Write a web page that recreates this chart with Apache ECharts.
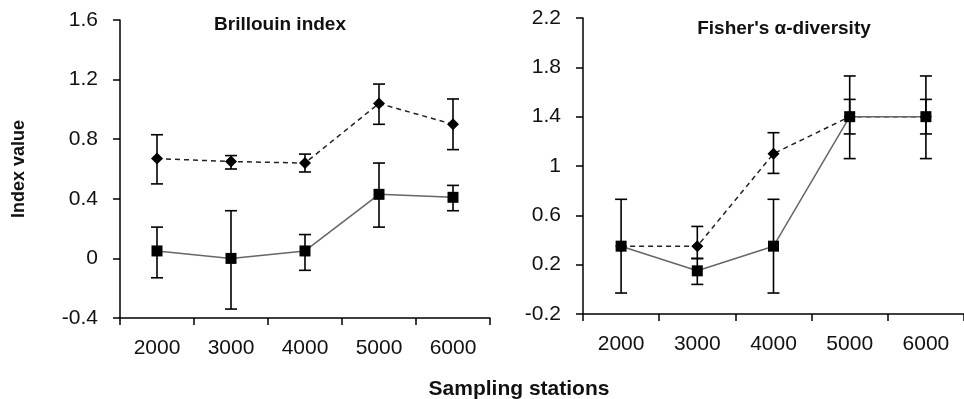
<!DOCTYPE html>
<html>
<head>
<meta charset="utf-8">
<script src="https://cdn.jsdelivr.net/npm/echarts@6/dist/echarts.min.js"></script>
<style>
html,body{margin:0;padding:0;background:#fff;}
#chart{width:964px;height:399px;}
</style>
</head>
<body>
<div id="chart"></div>
<script>
const categories = ['2000', '3000', '4000', '5000', '6000'];

const brillouinSolid     = [0.05, 0.00, 0.05, 0.43, 0.41];
const brillouinSolidLow  = [-0.13, -0.34, -0.08, 0.21, 0.32];
const brillouinSolidHigh = [0.21, 0.32, 0.16, 0.64, 0.49];
const brillouinDashed     = [0.67, 0.65, 0.64, 1.04, 0.90];
const brillouinDashedLow  = [0.50, 0.60, 0.58, 0.90, 0.73];
const brillouinDashedHigh = [0.83, 0.69, 0.70, 1.17, 1.07];

const fisherSolid     = [0.35, 0.15, 0.35, 1.40, 1.40];
const fisherSolidLow  = [-0.03, 0.04, -0.03, 1.06, 1.06];
const fisherSolidHigh = [0.73, 0.25, 0.73, 1.73, 1.73];
const fisherDashed     = [0.35, 0.35, 1.10, 1.40, 1.40];
const fisherDashedLow  = [0.35, 0.25, 0.94, 1.26, 1.26];
const fisherDashedHigh = [0.35, 0.51, 1.27, 1.54, 1.54];

const leftTicks = { min: -0.4, max: 1.6, interval: 0.4 };
const rightTicks = { min: -0.2, max: 2.2, interval: 0.4 };

const FONT = 'Liberation Sans, Arial, sans-serif';
const TXT = '#111';

function errData(lo, hi) {
  return categories.map((c, i) => [i, lo[i], hi[i]]);
}
function errRender(params, api) {
  const x = api.value(0);
  const lo = api.coord([x, api.value(1)]);
  const hi = api.coord([x, api.value(2)]);
  if (Math.abs(lo[1] - hi[1]) < 0.5) return { type: 'group', children: [] };
  const w = 6;
  const st = { stroke: '#000', lineWidth: 1.6 };
  return {
    type: 'group',
    children: [
      { type: 'line', shape: { x1: lo[0], y1: lo[1], x2: hi[0], y2: hi[1] }, style: st },
      { type: 'line', shape: { x1: hi[0] - w, y1: hi[1], x2: hi[0] + w, y2: hi[1] }, style: st },
      { type: 'line', shape: { x1: lo[0] - w, y1: lo[1], x2: lo[0] + w, y2: lo[1] }, style: st }
    ]
  };
}

function xAxis(gi) {
  return {
    type: 'category', gridIndex: gi, data: categories, boundaryGap: true,
    axisLine: { onZero: false, lineStyle: { color: '#000', width: 1.5 } },
    axisTick: { show: true, length: 7, lineStyle: { color: '#000', width: 1.5 } },
    axisLabel: { color: TXT, fontSize: 21, fontFamily: FONT, margin: 20 },
    splitLine: { show: false }
  };
}
function yAxis(gi, t, extra) {
  return Object.assign({
    type: 'value', gridIndex: gi, min: t.min, max: t.max, interval: t.interval,
    axisLine: { show: true, onZero: false, lineStyle: { color: '#000', width: 1.5 } },
    axisTick: { show: true, length: 7, lineStyle: { color: '#000', width: 1.5 } },
    axisLabel: { color: TXT, fontSize: 21, fontFamily: FONT, margin: 22,
      formatter: v => String(Math.round(v * 10) / 10) },
    splitLine: { show: false }
  }, extra || {});
}

function solidLine(xi, data) {
  return {
    type: 'line', xAxisIndex: xi, yAxisIndex: xi, data: data, z: 3,
    symbol: 'rect', symbolSize: 11,
    itemStyle: { color: '#000' },
    lineStyle: { color: '#666', width: 1.5 },
    animation: false
  };
}
function dashedLine(xi, data) {
  return {
    type: 'line', xAxisIndex: xi, yAxisIndex: xi, data: data, z: 3,
    symbol: 'diamond', symbolSize: [12, 12],
    itemStyle: { color: '#000' },
    lineStyle: { color: '#222', width: 1.5, type: [5, 4] },
    animation: false
  };
}
function errSeries(xi, lo, hi) {
  return {
    type: 'custom', xAxisIndex: xi, yAxisIndex: xi, z: 2,
    data: errData(lo, hi), renderItem: errRender, animation: false,
    encode: { x: 0, y: [1, 2] }
  };
}

const chart = echarts.init(document.getElementById('chart'));
chart.setOption({
  backgroundColor: '#fff',
  animation: false,
  title: [
    { text: 'Brillouin index', left: 275, top: 10, textAlign: 'center',
      textStyle: { fontSize: 19, fontWeight: 'bold', color: TXT, fontFamily: FONT } },
    { text: "Fisher's α-diversity", left: 779, top: 14, textAlign: 'center',
      textStyle: { fontSize: 19, fontWeight: 'bold', color: TXT, fontFamily: FONT } },
    { text: 'Sampling stations', left: 514, top: 374, textAlign: 'center',
      textStyle: { fontSize: 21, fontWeight: 'bold', color: TXT, fontFamily: FONT } }
  ],
  grid: [
    { left: 120, top: 20, width: 370, height: 298 },
    { left: 583, top: 18, width: 387, height: 296 }
  ],
  xAxis: [xAxis(0), xAxis(1)],
  yAxis: [
    yAxis(0, leftTicks, { name: 'Index value', nameLocation: 'middle', nameGap: 92, nameRotate: 90,
      nameTextStyle: { fontSize: 18, fontWeight: 'bold', color: TXT, fontFamily: FONT } }),
    yAxis(1, rightTicks)
  ],
  series: [
    errSeries(0, brillouinSolidLow, brillouinSolidHigh),
    errSeries(0, brillouinDashedLow, brillouinDashedHigh),
    dashedLine(0, brillouinDashed),
    solidLine(0, brillouinSolid),
    errSeries(1, fisherSolidLow, fisherSolidHigh),
    errSeries(1, fisherDashedLow, fisherDashedHigh),
    dashedLine(1, fisherDashed),
    solidLine(1, fisherSolid)
  ]
});
</script>
</body>
</html>
